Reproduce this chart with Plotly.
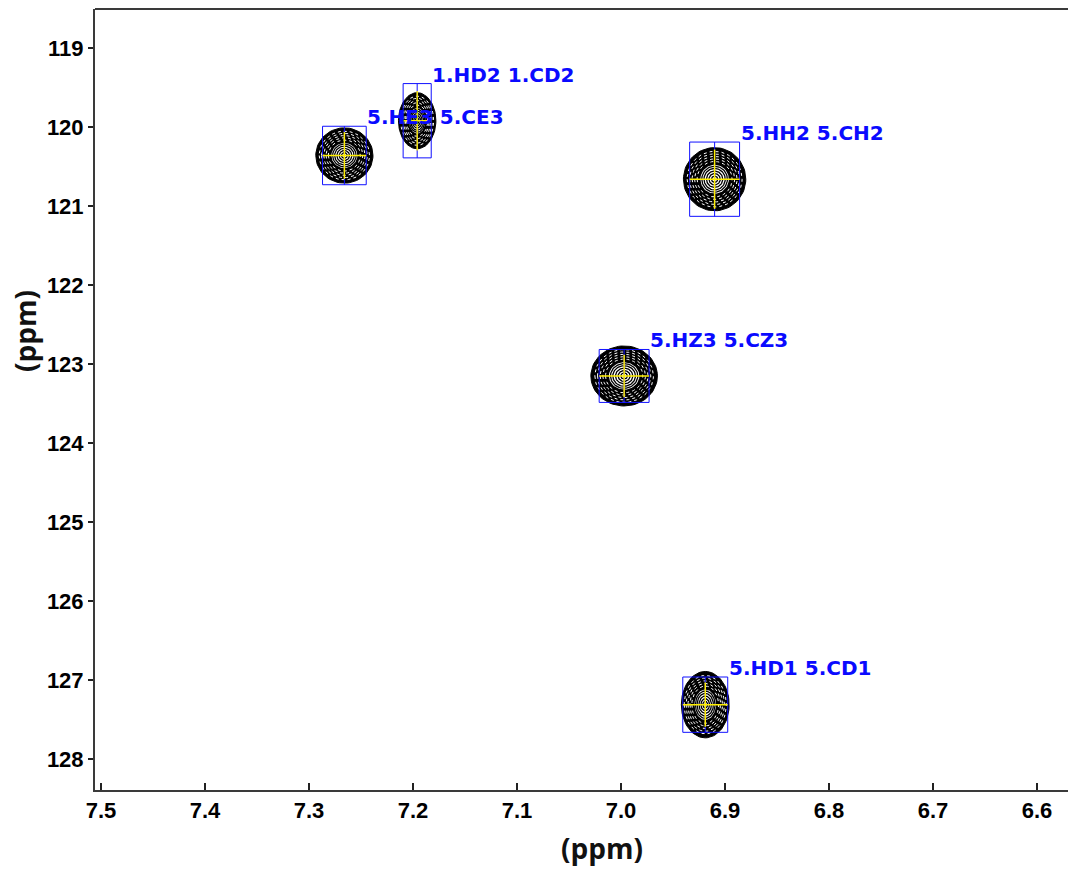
import numpy as np
import plotly.graph_objects as go

# ---- data ----
peak_labels = ["1.HD2 1.CD2", "5.HE3 5.CE3", "5.HH2 5.CH2", "5.HZ3 5.CZ3", "5.HD1 5.CD1"]
h_ppm = [7.196, 7.266, 6.910, 6.997, 6.919]          # 1H shift
c_ppm = [119.92, 120.36, 120.66, 123.15, 127.31]      # 13C shift
blob_h = [0.018, 0.0275, 0.030, 0.032, 0.023]         # peak half-width (1H)
blob_c = [0.355, 0.35, 0.40, 0.38, 0.42]              # peak half-width (13C)
box_h = [0.0135, 0.021, 0.024, 0.024, 0.0216]         # marker box half-width (1H)
box_c = [0.47, 0.37, 0.47, 0.335, 0.35]               # marker box half-width (13C)

x_ticks = [7.5, 7.4, 7.3, 7.2, 7.1, 7.0, 6.9, 6.8, 6.7, 6.6]
y_ticks = [119, 120, 121, 122, 123, 124, 125, 126, 127, 128]
x_range = [7.5058, 6.5625]
y_range = [128.39, 118.506]

theta = np.linspace(0, 2 * np.pi, 73)


def ellipses(frac):
    xs, ys = [], []
    for h, c, a, b in zip(h_ppm, c_ppm, blob_h, blob_c):
        xs += list(h + frac * a * np.cos(theta)) + [None]
        ys += list(c + frac * b * np.sin(theta)) + [None]
    return xs, ys


def ring_set(fracs):
    xs, ys = [], []
    for f in fracs:
        x, y = ellipses(f)
        xs += x
        ys += y
    return xs, ys


fig = go.Figure()

# black outer peak body
bx, by = ellipses(1.0)
fig.add_trace(go.Scatter(x=bx, y=by, mode="lines", fill="toself", fillcolor="black",
                         line=dict(color="black", width=1), hoverinfo="skip", showlegend=False))
# white dotted contour gaps in the dense outer region
wx, wy = ring_set([0.56, 0.64, 0.72, 0.80, 0.88])
fig.add_trace(go.Scatter(x=wx, y=wy, mode="lines", line=dict(color="white", width=1, dash="dot"),
                         hoverinfo="skip", showlegend=False))
# white inner region
ix, iy = ellipses(0.48)
fig.add_trace(go.Scatter(x=ix, y=iy, mode="lines", fill="toself", fillcolor="white",
                         line=dict(color="black", width=1.5), hoverinfo="skip", showlegend=False))
# black inner contour lines
kx, ky = ring_set([0.10, 0.18, 0.26, 0.34, 0.41])
fig.add_trace(go.Scatter(x=kx, y=ky, mode="lines", line=dict(color="black", width=1.3),
                         hoverinfo="skip", showlegend=False))

# blue marker boxes with centre divider
qx, qy = [], []
for h, c, a, b in zip(h_ppm, c_ppm, box_h, box_c):
    qx += [h - a, h + a, h + a, h - a, h - a, None, h, h, None]
    qy += [c - b, c - b, c + b, c + b, c - b, None, c - b, c + b, None]
fig.add_trace(go.Scatter(x=qx, y=qy, mode="lines", line=dict(color="#1010ff", width=1),
                         hoverinfo="skip", showlegend=False))

# yellow cross-hairs
yx, yy = [], []
for h, c, a, b in zip(h_ppm, c_ppm, box_h, box_c):
    yx += [h - a, h + a, None, h, h, None]
    yy += [c, c, None, c - 0.8 * b, c + 0.8 * b, None]
fig.add_trace(go.Scatter(x=yx, y=yy, mode="lines", line=dict(color="#ffee00", width=1.5),
                         hoverinfo="skip", showlegend=False))

# labels
for lab, h, c, a, b in zip(peak_labels, h_ppm, c_ppm, box_h, box_c):
    fig.add_annotation(x=h - a, y=c - b, text=lab, showarrow=False, xanchor="left",
                       yanchor="middle", yshift=9, xshift=-1,
                       font=dict(family="DejaVu Sans", size=20, color="#0a0aff", weight="bold"))

# axis titles
title_font = dict(family="Open Sans", size=28, color="#111111", weight="bold")
fig.add_annotation(text="(ppm)", xref="paper", yref="paper", x=0.5168, y=-0.0743,
                   xanchor="center", yanchor="middle", showarrow=False, font=title_font)
fig.add_annotation(text="(ppm)", xref="paper", yref="paper", x=-0.0714, y=0.5877,
                   xanchor="center", yanchor="middle", showarrow=False, textangle=-90,
                   font=title_font)

# top border
fig.add_shape(type="line", xref="paper", yref="paper", x0=0, x1=1, y0=1, y1=1,
              line=dict(color="#3a3a3a", width=2))

tick_font = dict(family="Liberation Sans", size=22, color="black", weight="bold")
# page body has an 8px margin: shift the figure so the plot area lands where the reference has it
fig.update_layout(
    width=1068, height=861,
    margin=dict(l=87, r=0, t=1, b=79),
    paper_bgcolor="white", plot_bgcolor="white",
    xaxis=dict(range=x_range, tickvals=x_ticks, ticktext=[f"{v:.1f}" for v in x_ticks],
               showgrid=False, zeroline=False, showline=True, linecolor="#3a3a3a", linewidth=2,
               ticks="inside", ticklen=7, tickwidth=1.5, tickcolor="#222222", tickfont=tick_font),
    yaxis=dict(range=y_range, tickvals=y_ticks, ticktext=[str(v) for v in y_ticks],
               showgrid=False, zeroline=False, showline=True, linecolor="#3a3a3a", linewidth=2,
               ticks="outside", ticklen=5, tickwidth=1.5, tickcolor="#222222", tickfont=tick_font),
)

fig.write_html("out.html")
